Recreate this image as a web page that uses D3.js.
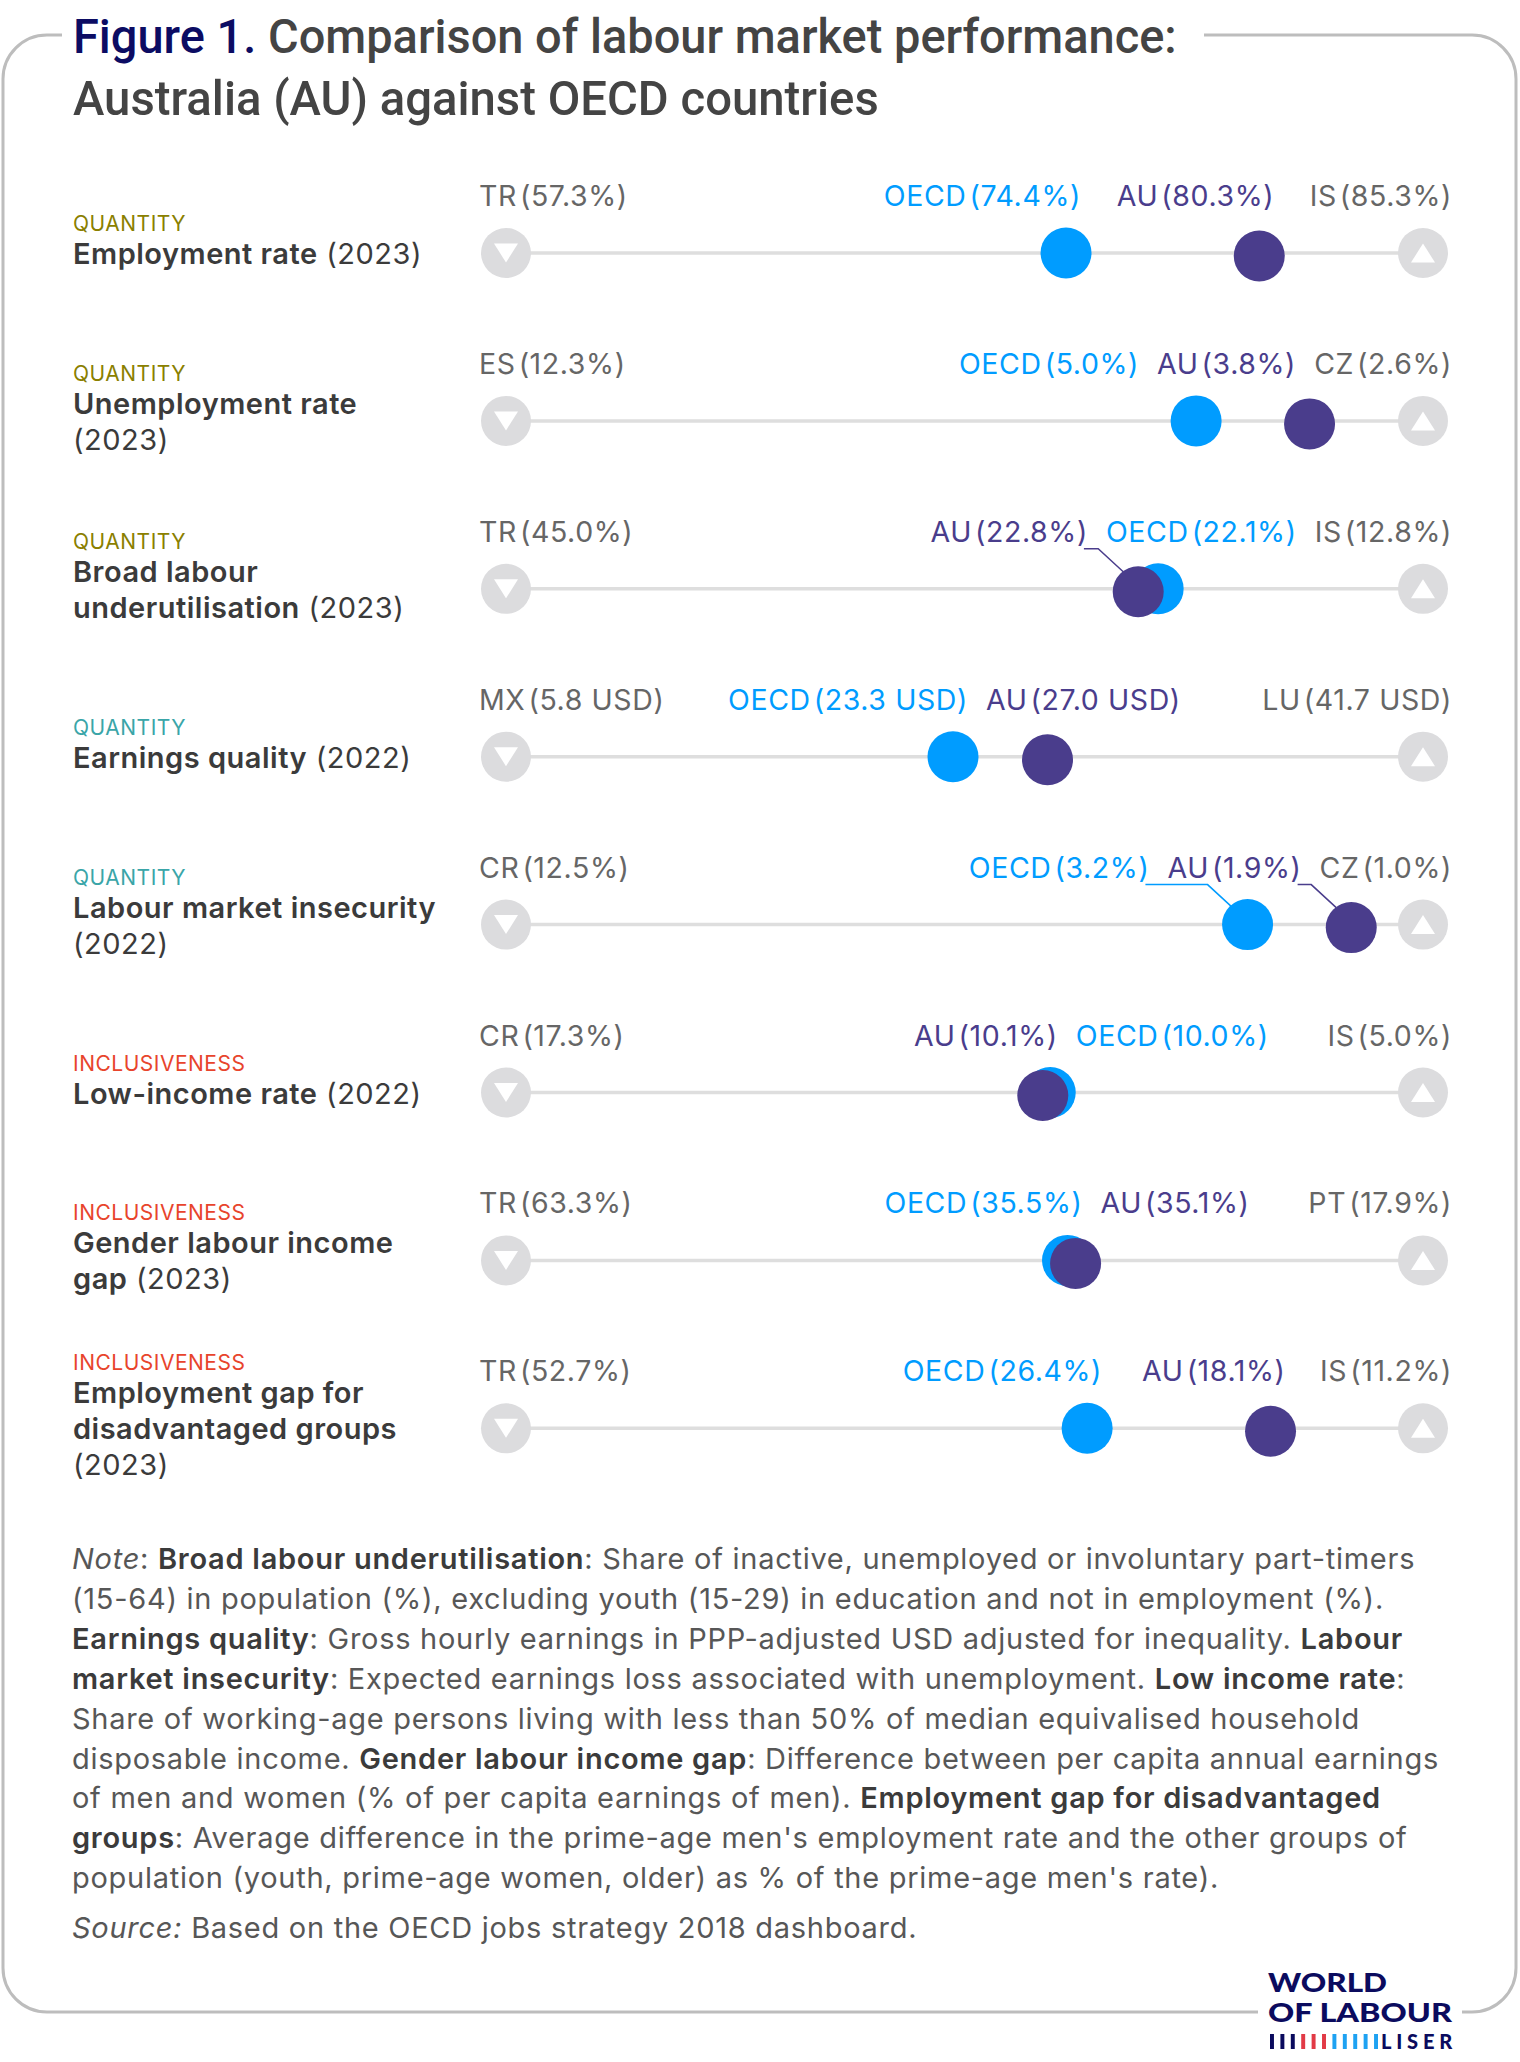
<!DOCTYPE html>
<html>
<head>
<meta charset="utf-8">
<script src="https://cdn.jsdelivr.net/npm/d3@7.9.0/dist/d3.min.js"></script>
<style>
  body { margin: 0; background: #fff; }
  svg text { font-family: Inter, 'Noto Sans', sans-serif; }
</style>
</head>
<body>
<div id="chart"></div>
<script>
// ─── DATA ────────────────────────────────────────────────────────────────────
const rowGroups   = ['QUANTITY','QUANTITY','QUANTITY','QUANTITY','QUANTITY','INCLUSIVENESS','INCLUSIVENESS','INCLUSIVENESS'];
const rowDims     = ['quantity','quantity','quantity','quality','quality','inclusiveness','inclusiveness','inclusiveness'];
const rowTitles   = [
  ['Employment rate'],
  ['Unemployment rate'],
  ['Broad labour', 'underutilisation'],
  ['Earnings quality'],
  ['Labour market insecurity'],
  ['Low-income rate'],
  ['Gender labour income', 'gap'],
  ['Employment gap for', 'disadvantaged groups']
];
const rowYears    = ['2023','2023','2023','2022','2022','2022','2023','2023'];
const yearOwnLine = [false, true, false, false, true, false, false, true];
const units       = ['%','%','%',' USD','%','%','%','%'];

const worstCodes  = ['TR','ES','TR','MX','CR','CR','TR','TR'];
const worstValues = [57.3, 12.3, 45.0, 5.8, 12.5, 17.3, 63.3, 52.7];
const bestCodes   = ['IS','CZ','IS','LU','CZ','IS','PT','IS'];
const bestValues  = [85.3, 2.6, 12.8, 41.7, 1.0, 5.0, 17.9, 11.2];
const oecdValues  = [74.4, 5.0, 22.1, 23.3, 3.2, 10.0, 35.5, 26.4];
const auValues    = [80.3, 3.8, 22.8, 27.0, 1.9, 10.1, 35.1, 18.1];

// labels that get a leader line to their dot (row index, series)
const callouts = [[2, 'AU'], [4, 'OECD'], [4, 'AU']];

const noteLines = [
  [['Note','i'], [': ','n'], ['Broad labour underutilisation','b'], [': Share of inactive, unemployed or involuntary part-timers','n']],
  [['(15-64) in population (%), excluding youth (15-29) in education and not in employment (%).','n']],
  [['Earnings quality','b'], [': Gross hourly earnings in PPP-adjusted USD adjusted for inequality. ','n'], ['Labour','b']],
  [['market insecurity','b'], [': Expected earnings loss associated with unemployment. ','n'], ['Low income rate','b'], [':','n']],
  [['Share of working-age persons living with less than 50% of median equivalised household','n']],
  [['disposable income. ','n'], ['Gender labour income gap','b'], [': Difference between per capita annual earnings','n']],
  [['of men and women (% of per capita earnings of men). ','n'], ['Employment gap for disadvantaged','b']],
  [['groups','b'], [": Average difference in the prime-age men's employment rate and the other groups of",'n']],
  [["population (youth, prime-age women, older) as % of the prime-age men's rate).",'n']]
];
const sourceLine = [['Source:','i'], [' Based on the OECD jobs strategy 2018 dashboard.','n']];

const logoBars = ['navy','navy','navy','red','red','red','blue','blue','blue','blue','blue'];

// ─── STYLE ───────────────────────────────────────────────────────────────────
const W = 1520, H = 2062;
const dimColor = { quantity: '#8a7f00', quality: '#3aa5a8', inclusiveness: '#e8442c' };
const barColor = { navy: '#0b0b5e', red: '#e23a46', blue: '#1ea2f2' };
const C_OECD = '#009cff', C_AU = '#4a3d8c', C_GREY = '#666666', C_DARK = '#3b3b3b';
const noteFill = { n: '#575757', b: '#3b3b3b', i: '#575757' };

const svg = d3.select('#chart').append('svg')
  .attr('width', W).attr('height', H);

// ─── FRAME ───────────────────────────────────────────────────────────────────
{
  const r = 44, L = 3, T = 35, R = 1516, B = 2012;
  const p = d3.path();
  p.moveTo(62, T); p.lineTo(L + r, T); p.arcTo(L, T, L, T + r, r);
  p.lineTo(L, B - r); p.arcTo(L, B, L + r, B, r); p.lineTo(1258, B);
  p.moveTo(1462, B); p.lineTo(R - r, B); p.arcTo(R, B, R, B - r, r);
  p.lineTo(R, T + r); p.arcTo(R, T, R - r, T, r); p.lineTo(1204, T);
  svg.append('path').attr('d', p.toString())
    .attr('fill', 'none').attr('stroke', '#bdbdbd').attr('stroke-width', 3);
}

// ─── TITLE ───────────────────────────────────────────────────────────────────
function fitText(sel, x, y, target) {
  const w = sel.node().getComputedTextLength();
  sel.attr('transform', `translate(${x},${y}) scale(${target / w},1)`);
}
const t1 = svg.append('text')
  .style('font-family', 'Roboto, sans-serif').style('font-weight', 500).style('font-size', '49px');
t1.append('tspan').attr('fill', '#0c0c63').text('Figure 1.');
t1.append('tspan').attr('fill', '#444').text(' Comparison of labour market performance:');
fitText(t1, 73, 53, 1104);
const t2 = svg.append('text')
  .style('font-family', 'Roboto, sans-serif').style('font-weight', 500).style('font-size', '49px')
  .attr('fill', '#444').text('Australia (AU) against OECD countries');
fitText(t2, 73, 115, 806);

// ─── ROWS ────────────────────────────────────────────────────────────────────
const rowY = d3.scaleLinear().domain([0, 1]).range([253, 253 + 167.9]);
const trackX0 = 506, trackX1 = 1423, labLeft = 479, labRight = 1452;

function fmt(v, u) { return `(${v.toFixed(1)}${u})`; }

function addLabel(g, code, value, unit, color, y) {
  const t = g.append('text').attr('y', y).attr('fill', color)
    .style('font-size', '28.5px').style('letter-spacing', '0.6px');
  t.append('tspan').text(code);
  t.append('tspan').attr('dx', 3).text(fmt(value, unit));
  return t;
}

rowGroups.forEach((grp, i) => {
  const ly = rowY(i);
  const g = svg.append('g');
  const x = d3.scaleLinear().domain([worstValues[i], bestValues[i]]).range([trackX0, trackX1]);

  // left block
  const lines = rowTitles[i].map(s => ({ bold: s, year: null }));
  if (yearOwnLine[i]) lines.push({ bold: null, year: `(${rowYears[i]})` });
  else lines[lines.length - 1].year = ` (${rowYears[i]})`;
  const n = lines.length;
  const catY = ly - 22 - (n - 1) * 18;
  g.append('text').attr('x', 73).attr('y', catY)
    .attr('fill', dimColor[rowDims[i]]).style('font-size', '21px').style('letter-spacing', '0.5px')
    .text(grp);
  lines.forEach((ln, k) => {
    const t = g.append('text').attr('x', 73).attr('y', catY + 33 + k * 36)
      .attr('fill', C_DARK).style('font-size', '29px').style('letter-spacing', '0.5px');
    if (ln.bold) t.append('tspan').style('font-weight', 600).text(ln.bold);
    if (ln.year) t.append('tspan').style('font-weight', 400).text(ln.year);
  });

  // track
  g.append('line').attr('x1', x(worstValues[i])).attr('x2', x(bestValues[i]))
    .attr('y1', ly).attr('y2', ly).attr('stroke', '#dedede').attr('stroke-width', 3.5);
  [[worstValues[i], 1], [bestValues[i], -1]].forEach(([v, dir]) => {
    const cx = x(v);
    g.append('circle').attr('cx', cx).attr('cy', ly).attr('r', 25).attr('fill', '#dcdcde');
    g.append('path')
      .attr('d', d3.line()([[cx - 12, ly - 9.5 * dir], [cx + 12, ly - 9.5 * dir], [cx, ly + 9.5 * dir]]) + 'Z')
      .attr('fill', '#fff');
  });

  // labels
  const baseY = ly - 47;
  addLabel(g, worstCodes[i], worstValues[i], units[i], C_GREY, baseY).attr('x', labLeft);
  const bl = addLabel(g, bestCodes[i], bestValues[i], units[i], C_GREY, baseY)
    .attr('x', labRight).attr('text-anchor', 'end');
  const bestLeft = labRight - bl.node().getBBox().width;

  const mids = [
    { code: 'OECD', v: oecdValues[i], color: C_OECD, dy: 0 },
    { code: 'AU',   v: auValues[i],   color: C_AU,   dy: 3 }
  ].map(d => ({ ...d, dotX: x(d.v) }));

  mids.forEach(d => {
    d.node = addLabel(g, d.code, d.v, units[i], d.color, baseY);
    d.w = d.node.node().getBBox().width;
  });
  const order = mids.slice().sort((a, b) => a.dotX - b.dotX);
  const gap = 18;
  order.forEach((d, k) => {
    d.right = d.dotX + 15;
    d.left = d.right - d.w;
    if (k > 0 && d.left < order[k - 1].right + gap) {
      d.left = order[k - 1].right + gap; d.right = d.left + d.w;
    }
  });
  let limit = bestLeft - gap;
  for (let k = order.length - 1; k >= 0; k--) {
    const d = order[k];
    if (d.right > limit) { d.right = limit; d.left = d.right - d.w; }
    limit = d.left - gap;
  }
  mids.forEach(d => {
    d.node.attr('x', d.left);
    if (callouts.some(([r, s]) => r === i && s === d.code)) {
      g.append('path')
        .attr('d', d3.line()([[d.right - 4, baseY + 7], [d.dotX - 40, baseY + 7], [d.dotX - 15, ly - 17]]))
        .attr('fill', 'none').attr('stroke', d.color).attr('stroke-width', 1.5);
    }
  });

  // dots (OECD below, AU on top)
  mids.forEach(d => {
    g.append('circle').attr('cx', d.dotX).attr('cy', ly + d.dy).attr('r', 25.5).attr('fill', d.color);
  });
});

// ─── NOTES ───────────────────────────────────────────────────────────────────
function richLine(segs, y) {
  const t = svg.append('text').attr('x', 72).attr('y', y)
    .style('font-size', '29px').style('letter-spacing', '0.72px');
  segs.forEach(([s, st]) => {
    t.append('tspan').text(s)
      .attr('fill', noteFill[st])
      .style('font-weight', st === 'b' ? 600 : 400)
      .style('font-style', st === 'i' ? 'italic' : 'normal');
  });
}
noteLines.forEach((segs, j) => richLine(segs, 1569 + j * 39.9));
richLine(sourceLine, 1938);

// ─── LOGO ────────────────────────────────────────────────────────────────────
const lw = svg.append('text').style('font-family', 'Lato, sans-serif').style('font-weight', 900)
  .style('font-size', '27px').attr('fill', '#0b0b5e').text('WORLD');
fitText(lw, 1268, 1992, 119);
const ll = svg.append('text').style('font-family', 'Lato, sans-serif').style('font-weight', 900)
  .style('font-size', '27px').attr('fill', '#0b0b5e').text('OF LABOUR');
fitText(ll, 1268, 2022, 184);
const bx = d3.scaleBand().domain(d3.range(logoBars.length)).range([1270, 1378]).paddingInner(0.62);
svg.append('g').selectAll('rect').data(logoBars).join('rect')
  .attr('x', (d, k) => bx(k)).attr('y', 2034).attr('width', bx.bandwidth()).attr('height', 15)
  .attr('fill', d => barColor[d]);
const ls = svg.append('text').style('font-family', 'Lato, sans-serif').style('font-weight', 900)
  .style('font-size', '21px').style('letter-spacing', '5px').attr('fill', '#0b0b5e').text('LISER');
fitText(ls, 1381, 2049, 76);
</script>
</body>
</html>
